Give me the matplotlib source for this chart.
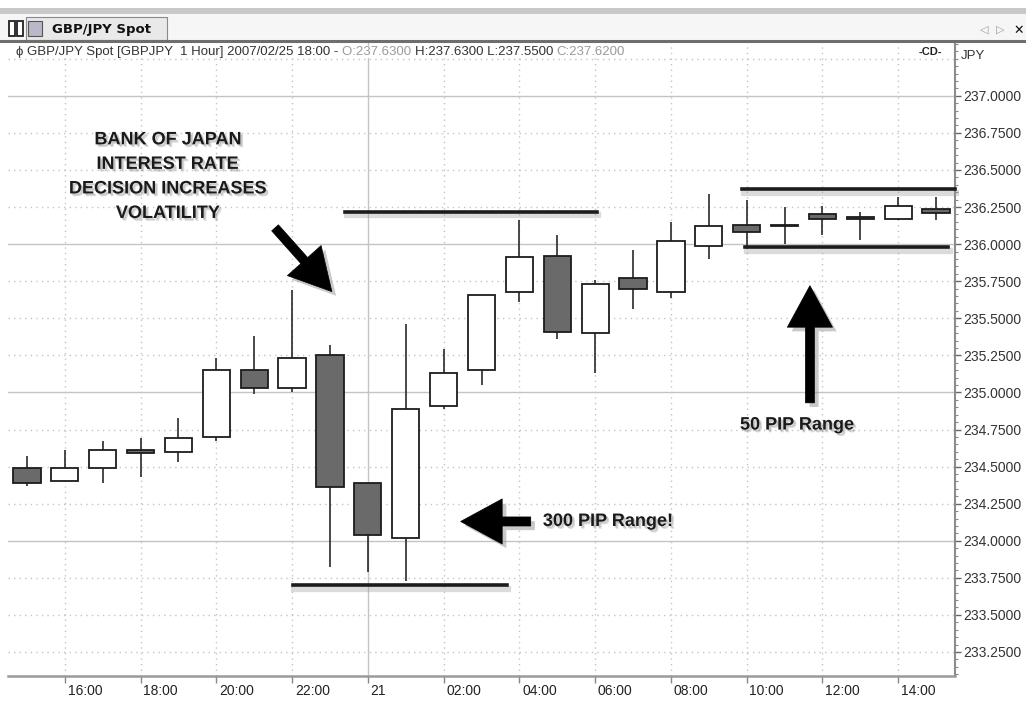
"""GBP/JPY 1 hour candles around the Bank of Japan rate decision."""

import matplotlib
matplotlib.use("Agg")
from matplotlib import pyplot as plt
from matplotlib import patheffects as pe
from matplotlib.patches import Rectangle
from matplotlib.transforms import ScaledTranslation
import numpy as np

W, H = 1026, 706

# hourly candles, 15:00 on day 20 to 15:00 on day 21
opens = [234.49, 234.40, 234.49, 234.61, 234.60, 234.70, 235.15, 235.03, 235.25,
         234.39, 234.02, 234.91, 235.15, 235.68, 235.92, 235.40, 235.77, 235.68,
         235.99, 236.13, 236.12, 236.20, 236.18, 236.17, 236.24]
highs = [234.57, 234.61, 234.67, 234.69, 234.83, 235.23, 235.38, 235.69, 235.32,
         234.39, 235.46, 235.29, 235.66, 236.16, 236.06, 235.76, 235.96, 236.15,
         236.34, 236.30, 236.25, 236.26, 236.22, 236.32, 236.32]
lows = [234.37, 234.40, 234.39, 234.43, 234.53, 234.67, 234.99, 235.00, 233.82,
        233.79, 233.73, 234.89, 235.05, 235.61, 235.36, 235.13, 235.56, 235.64,
        235.90, 235.97, 236.00, 236.06, 236.03, 236.16, 236.16]
closes = [234.39, 234.49, 234.61, 234.59, 234.69, 235.15, 235.03, 235.23, 234.36,
          234.04, 234.89, 235.13, 235.66, 235.91, 235.41, 235.73, 235.70, 236.02,
          236.12, 236.08, 236.13, 236.17, 236.17, 236.26, 236.21]

xtick_pos = [1, 3, 5, 7, 9, 11, 13, 15, 17, 19, 21, 23]
xtick_labels = ["16:00", "18:00", "20:00", "22:00", "21", "02:00", "04:00",
                "06:00", "08:00", "10:00", "12:00", "14:00"]
ytick_vals = np.arange(233.25, 237.01, 0.25)

# range markers drawn on the chart
big_range = (233.70, 236.22)
small_range = (235.98, 236.37)

DARK = "#1c1c1c"
FONT = "Liberation Sans"


def fx(px):
    return px / W


def fy(py):
    return 1 - py / H


fig = plt.figure(figsize=(W / 100, H / 100), dpi=100)
fig.patch.set_facecolor("white")

# ---- window chrome ---------------------------------------------------------
fig.add_artist(Rectangle((0, fy(14)), 1, fy(8) - fy(14), transform=fig.transFigure,
                         fc="#c8c8c8", ec="none"))
fig.add_artist(Rectangle((0, fy(40)), 1, fy(14) - fy(40), transform=fig.transFigure,
                         fc="#f6f6f6", ec="none"))
fig.add_artist(Rectangle((fx(26), fy(40)), fx(141), fy(17) - fy(40),
                         transform=fig.transFigure, fc="#e9e9e9", ec="#8a8a8a", lw=0.8))
for x0 in (9, 17):
    fig.add_artist(Rectangle((fx(x0), fy(36)), fx(6), fy(21) - fy(36),
                             transform=fig.transFigure, fc="white", ec="#222222", lw=1.3))
fig.add_artist(Rectangle((fx(28), fy(36)), fx(14), fy(21) - fy(36),
                         transform=fig.transFigure, fc="#b8b8c8", ec="#555555", lw=0.8))
fig.text(fx(52), fy(29), "GBP/JPY Spot", fontsize=9.5, fontweight="bold",
         family="DejaVu Sans", va="center", color="#111111")
fig.text(fx(984), fy(30), "◁", fontsize=8, color="#999999", va="center", ha="center")
fig.text(fx(1000), fy(30), "▷", fontsize=8, color="#999999", va="center", ha="center")
fig.text(fx(1019), fy(30), "✕", fontsize=9, color="#111111", va="center",
         ha="center", fontweight="bold")
fig.add_artist(plt.Line2D([0, 1], [fy(41), fy(41)], transform=fig.transFigure,
                          color="#6e6e6e", lw=2.2))

# ---- price chart -----------------------------------------------------------
ax = fig.add_axes([fx(8), fy(676), fx(955 - 8), fy(42) - fy(676)])
ax.set_xlim(-0.5, 24.5)
ax.set_ylim(233.088, 237.363)

for v in ytick_vals:
    if abs(v - round(v)) < 1e-6:
        ax.axhline(v, color="#c4c4c4", lw=1.0, zorder=0)
    else:
        ax.axhline(v, color="#c4c4c4", lw=1.0, ls=(0, (1, 3)), zorder=0)
ax.axhline(237.25, color="#c4c4c4", lw=1.0, ls=(0, (1, 3)), zorder=0)
for pos, lab in zip(xtick_pos, xtick_labels):
    if lab == "21":
        ax.axvline(pos, color="#c4c4c4", lw=1.0, zorder=0)
    else:
        ax.axvline(pos, color="#c4c4c4", lw=1.0, ls=(0, (1, 3)), zorder=0)

bw = 0.72
for i, (o, h, l, c) in enumerate(zip(opens, highs, lows, closes)):
    ax.plot([i, i], [l, h], color="#2a2a2a", lw=1.2, zorder=2, solid_capstyle="butt")
    lo, hi = min(o, c), max(o, c)
    fill = "#6a6a6a" if c < o else "white"
    ax.add_patch(Rectangle((i - bw / 2, lo), bw, max(hi - lo, 0.012), fc=fill,
                           ec=DARK, lw=1.3, zorder=3))

ax.yaxis.tick_right()
ax.set_yticks(ytick_vals)
ax.set_yticklabels([f"{v:.4f}" for v in ytick_vals])
ax.set_yticks(np.arange(233.10, 237.36, 0.05), minor=True)
ax.tick_params(axis="y", which="major", length=4, width=1, color="#666666",
               labelsize=10, labelcolor="#333333", pad=2)
ax.tick_params(axis="y", which="minor", length=2, width=0.8, color="#888888")
for lab in ax.get_yticklabels():
    lab.set_family(FONT)

ax.set_xticks(xtick_pos)
ax.set_xticklabels(xtick_labels)
ax.tick_params(axis="x", length=5, width=1, color="#888888", labelsize=10,
               labelcolor="#222222", pad=1)
shift = ScaledTranslation(2 / 72, 0, fig.dpi_scale_trans)
for lab in ax.get_xticklabels():
    lab.set_horizontalalignment("left")
    lab.set_family(FONT)
    lab.set_transform(lab.get_transform() + shift)

for side in ("left", "top"):
    ax.spines[side].set_visible(False)
ax.spines["right"].set_color("#8c8c8c")
ax.spines["right"].set_linewidth(1.5)
ax.spines["bottom"].set_color("#9a9a9a")
ax.spines["bottom"].set_linewidth(1.8)

# ---- header line of the chart pane ---------------------------------------
box = dict(fc="white", ec="none", pad=0.3)
parts = [("ϕ GBP/JPY Spot [GBPJPY  1 Hour] 2007/02/25 18:00 - ", "#333333"),
         ("O:237.6300 ", "#9a9a9a"),
         ("H:237.6300 L:237.5500 ", "#333333"),
         ("C:237.6200", "#9a9a9a")]
prev = fig.text(fx(16), fy(52), parts[0][0], fontsize=9.5, family=FONT,
                color=parts[0][1], va="center", bbox=box, zorder=5)
for txt, col in parts[1:]:
    prev = ax.annotate(txt, xy=(1, 0), xycoords=prev, va="bottom", fontsize=9.5,
                       family=FONT, color=col, bbox=box, zorder=5)
fig.text(fx(930), fy(52), "-CD-", fontsize=8, family=FONT, color="#222222",
         va="center", ha="center", fontweight="bold")
fig.text(fx(961), fy(56), "JPY", fontsize=9.5, family=FONT, color="#333333",
         va="center")

# ---- annotations -----------------------------------------------------------
line_fx = [pe.SimpleLineShadow(offset=(1, -2.5), shadow_color="#999999", alpha=0.35,
                               linewidth=4.5), pe.Normal()]
arrow_fx = [pe.SimplePatchShadow(offset=(3, -3), shadow_rgbFace="#888888", alpha=0.45),
            pe.Normal()]
txt_fx = [pe.SimplePatchShadow(offset=(2, -2), shadow_rgbFace="#888888", alpha=0.3),
          pe.SimplePatchShadow(offset=(1.2, -1.2), shadow_rgbFace="#888888", alpha=0.3),
          pe.Normal()]

ax.plot([7.02, 12.67], [big_range[0]] * 2, color=DARK, lw=2.6, zorder=4,
        path_effects=line_fx)
ax.plot([8.40, 15.05], [big_range[1]] * 2, color=DARK, lw=2.6, zorder=4,
        path_effects=line_fx)
ax.plot([18.88, 24.5], [small_range[1]] * 2, color=DARK, lw=2.6, zorder=4,
        path_effects=line_fx, clip_on=False)
ax.plot([18.96, 24.32], [small_range[0]] * 2, color=DARK, lw=2.6, zorder=4,
        path_effects=line_fx)

tfont = dict(fontsize=13, fontweight="bold", family=FONT, color="#1a1a1a",
             zorder=6, path_effects=txt_fx)
ax.text(3.72, 236.455, "BANK OF JAPAN\nINTEREST RATE\nDECISION INCREASES\nVOLATILITY",
        ha="center", va="center", linespacing=1.58, **tfont)
ax.text(13.62, 234.13, "300 PIP Range!", ha="left", va="center", **tfont)
ax.text(20.33, 234.78, "50 PIP Range", ha="center", va="center", **tfont)

astyle = "simple,head_length=1.15,head_width=1.25,tail_width=0.25"
for start, end in [((6.55, 236.11), (8.05, 235.68)),
                   ((13.30, 234.13), (11.45, 234.13)),
                   ((20.67, 234.93), (20.67, 235.72))]:
    ax.annotate("", xy=end, xytext=start, zorder=6,
                arrowprops=dict(arrowstyle=astyle, mutation_scale=26, fc="black",
                                ec="black", lw=0.5, shrinkA=0, shrinkB=0,
                                path_effects=arrow_fx))

fig.savefig("out.png", dpi=100)
